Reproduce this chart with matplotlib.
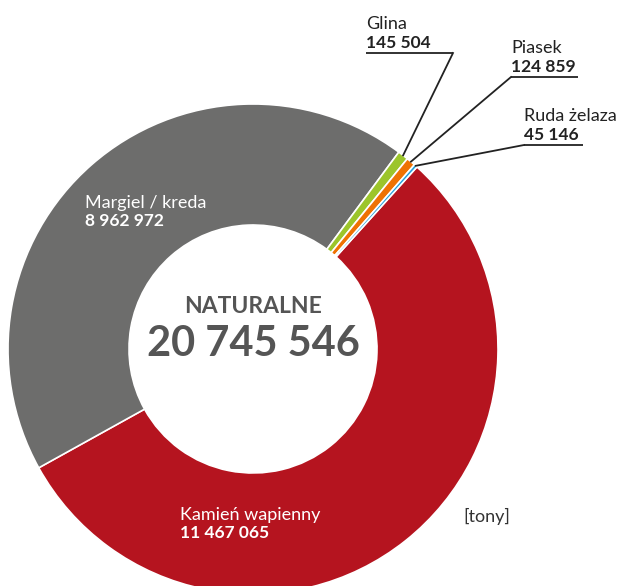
import numpy as np
import matplotlib
matplotlib.use("Agg")
import matplotlib.pyplot as plt

plt.rcParams['font.family'] = ['Lato', 'DejaVu Sans']

# data (tonnes), clockwise from the top-right
names = ['Kamień wapienny', 'Margiel / kreda', 'Glina', 'Piasek', 'Ruda żelaza']
values = [11467065, 8962972, 145504, 124859, 45146]
colors = ['#b5141f', '#6d6d6c', '#9cc52b', '#ee7203', '#1e9fdc']
total_label = 'NATURALNE'

W, H = 622, 586
CX, CY = 253, 349
R, R_IN = 245, 124


def fmt(v):
    return f'{v:,}'.replace(',', ' ')


def y(py):
    # pixel row from the top -> data y
    return H - py


fig = plt.figure(figsize=(W / 100, H / 100), dpi=100)
ax = fig.add_axes([0, 0, 1, 1])

start = 48.0
wedges, _ = ax.pie(values, colors=colors, startangle=start, counterclock=False,
                   center=(CX, y(CY)), radius=R,
                   wedgeprops=dict(width=R - R_IN, edgecolor='white', linewidth=1.2))
ax.set_xlim(0, W)
ax.set_ylim(0, H)
ax.set_aspect('equal')
ax.axis('off')

# centre text
ax.text(CX, y(313), total_label, ha='center', va='baseline', fontsize=16.5,
        fontweight='bold', color='#555555')
ax.text(CX, y(356), fmt(sum(values)), ha='center', va='baseline', fontsize=30,
        fontweight='bold', color='#555555')

# labels inside the two big slices
inner = {0: (180, 520), 1: (85, 208)}
for i, (lx, ly) in inner.items():
    ax.text(lx, y(ly), names[i], ha='left', va='baseline', fontsize=13, color='white')
    ax.text(lx, y(ly + 17.5), fmt(values[i]), ha='left', va='baseline', fontsize=12.5,
            fontweight='bold', color='white')

# outside labels with leader lines: (text x, name baseline, underline right end)
outside = {2: (366, 29, 453), 3: (511, 53, 578), 4: (524, 121, 583)}
for i, (lx, ly, lx2) in outside.items():
    w = wedges[i]
    mid = np.deg2rad((w.theta1 + w.theta2) / 2)
    px = CX + R * np.cos(mid)
    py = y(CY) + R * np.sin(mid)
    uy = y(ly + 24)
    ax.text(lx, y(ly), names[i], ha='left', va='baseline', fontsize=13, color='#222222')
    ax.text(lx, y(ly + 18.5), fmt(values[i]), ha='left', va='baseline', fontsize=12.5,
            fontweight='bold', color='#222222')
    anchor = lx2 if i == 2 else lx
    ax.plot([lx, lx2], [uy, uy], color='#222222', lw=1.3, solid_capstyle='butt')
    ax.plot([anchor, px], [uy, py], color='#222222', lw=1.3)

ax.text(463, y(522), '[tony]', ha='left', va='baseline', fontsize=13, color='#333333')

fig.savefig('out.png', dpi=100)
